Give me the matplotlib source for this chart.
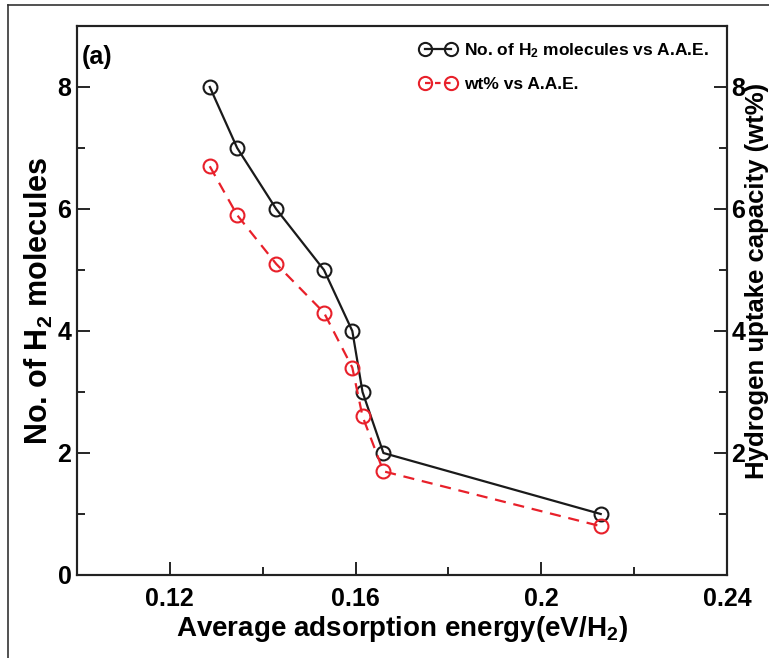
import matplotlib
matplotlib.use("Agg")
import matplotlib.pyplot as plt
from matplotlib.lines import Line2D
from matplotlib.ticker import FixedLocator

plt.rcParams['font.family'] = ['Liberation Sans', 'DejaVu Sans']
plt.rcParams['font.weight'] = 'bold'
plt.rcParams['mathtext.default'] = 'regular'

# ── Data ──────────────────────────────────────────────────────────────────────
aae = [0.1286, 0.1345, 0.1429, 0.1532, 0.1593, 0.1615, 0.1660, 0.2128]
n_h2 = [8, 7, 6, 5, 4, 3, 2, 1]
wt_pct = [6.7, 5.9, 5.1, 4.3, 3.4, 2.6, 1.7, 0.8]

x_ticks = [0.12, 0.16, 0.2, 0.24]
x_tick_labels = ["0.12", "0.16", "0.2", "0.24"]

RED = "#e8202a"
BLACK = "#1a1a1a"

fig = plt.figure(figsize=(7.69, 6.58), dpi=100, facecolor="white")
ax = fig.add_axes([77 / 769, 1 - 575 / 658, 650 / 769, 549 / 658])
ax2 = ax.twinx()

ax.plot(aae, n_h2, color=BLACK, linewidth=1.6, marker="o", markersize=10,
        markerfacecolor="none", markeredgecolor=BLACK, markeredgewidth=1.5)
ax2.plot(aae, wt_pct, color=RED, linewidth=1.6, linestyle=(0, (5, 3.5)),
         marker="o", markersize=10, markerfacecolor="none",
         markeredgecolor=RED, markeredgewidth=1.5)

ax.set_xlim(0.1, 0.24)
ax.set_ylim(0, 9)
ax2.set_ylim(0, 9)

ax.xaxis.set_major_locator(FixedLocator(x_ticks))
ax.set_xticklabels(x_tick_labels)
ax.xaxis.set_minor_locator(FixedLocator([0.14, 0.18, 0.22]))
ax.yaxis.set_major_locator(FixedLocator([0, 2, 4, 6, 8]))
ax.yaxis.set_minor_locator(FixedLocator([1, 3, 5, 7]))
ax2.yaxis.set_major_locator(FixedLocator([2, 4, 6, 8]))
ax2.yaxis.set_minor_locator(FixedLocator([1, 3, 5, 7]))

for a in (ax, ax2):
    for s in a.spines.values():
        s.set_linewidth(1.5)
        s.set_color("#222222")

ax.tick_params(axis="both", which="major", direction="in", length=9.5, width=1.2,
               labelsize=18, top=False, right=False)
ax.tick_params(axis="both", which="minor", direction="in", length=6, width=1.2,
               top=False, right=False)
ax.tick_params(axis="x", pad=9)
ax.tick_params(axis="y", pad=4)
ax2.tick_params(axis="y", which="major", direction="in", length=9.5, width=1.2,
                labelsize=18, pad=3)
ax2.tick_params(axis="y", which="minor", direction="in", length=6, width=1.2)

ax.set_xlabel("Average adsorption energy(eV/H$_2$)", fontsize=20, fontweight="bold",
              labelpad=2)
ax.set_ylabel("No. of H$_2$ molecules", fontsize=22, fontweight="bold", labelpad=2)
ax2.set_ylabel("Hydrogen uptake capacity (wt%)", fontsize=18.5, fontweight="bold")
ax2.yaxis.label.set_rotation_mode("anchor")
ax2.yaxis.label.set_ha("center")
ax2.yaxis.label.set_va("center")
ax2.yaxis.set_label_coords(1.046, 0.535)

ax.text(0.008, 0.965, "(a)", transform=ax.transAxes, fontsize=18,
        fontweight="bold", va="top", ha="left")

handles = [
    Line2D([], [], color=BLACK, linewidth=1.6, marker="o", markersize=9.5,
           markerfacecolor="none", markeredgewidth=1.5),
    Line2D([], [], color=RED, linewidth=1.6, linestyle=(0, (2.5, 2)), marker="o",
           markersize=9.5, markerfacecolor="none", markeredgewidth=1.5),
]
labels = ["No. of H$_2$ molecules vs A.A.E.", "wt% vs A.A.E."]
ax.legend(handles, labels, loc="upper right", frameon=False, fontsize=12.5,
          numpoints=2, handlelength=2.1, handletextpad=0.4, labelspacing=1.0,
          borderaxespad=0.3, bbox_to_anchor=(0.99, 0.995))

# outer frame (left and top edge of the original figure border)
fig.add_artist(Line2D([8 / 769, 8 / 769], [0, 1 - 5 / 658], transform=fig.transFigure,
                      color="#333333", linewidth=1.2))
fig.add_artist(Line2D([8 / 769, 1], [1 - 5 / 658, 1 - 5 / 658], transform=fig.transFigure,
                      color="#333333", linewidth=1.2))

fig.savefig("out.png", dpi=100, facecolor="white")
